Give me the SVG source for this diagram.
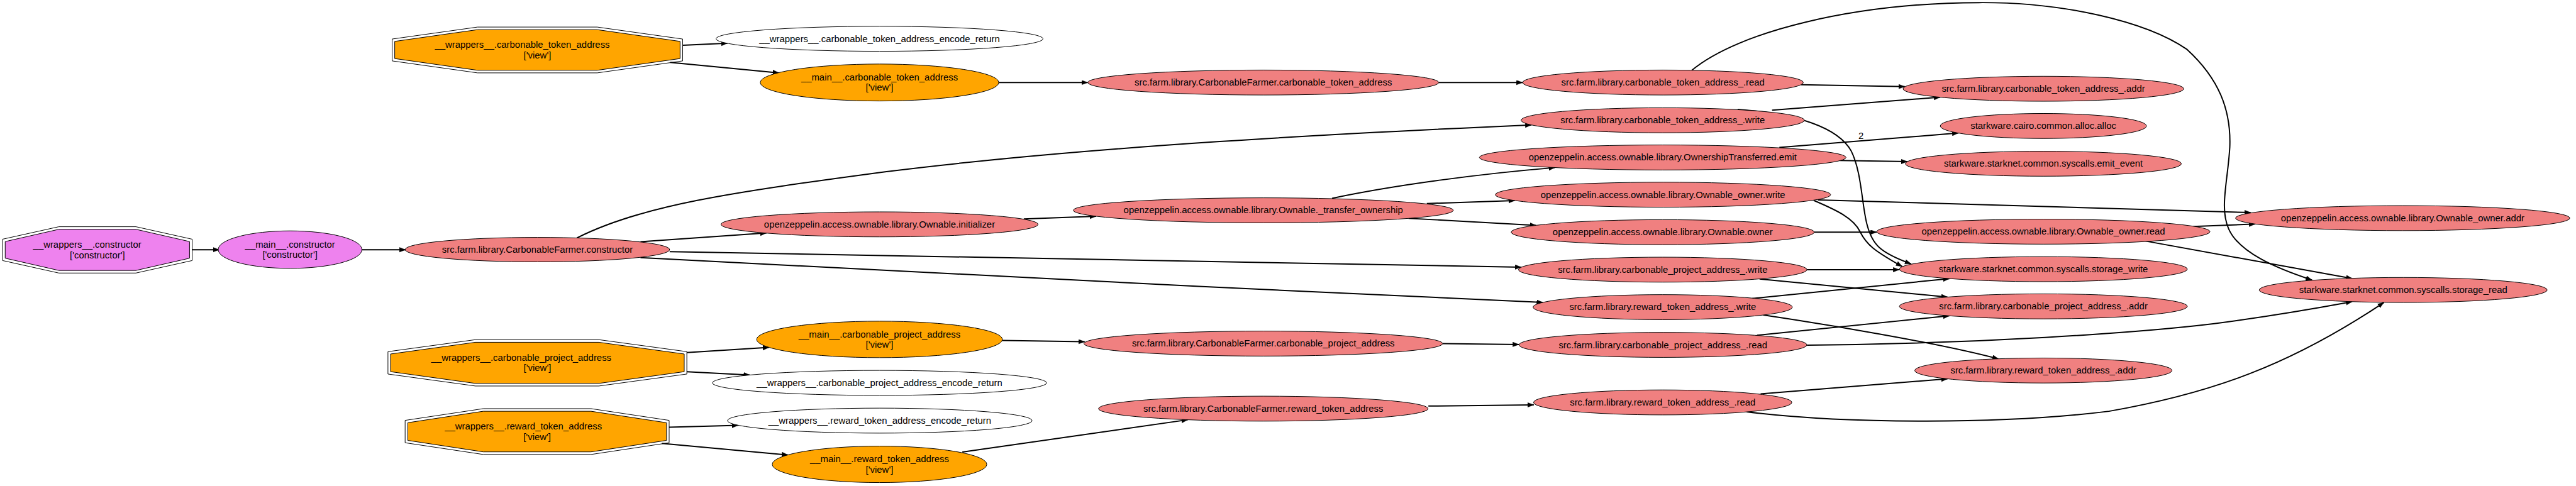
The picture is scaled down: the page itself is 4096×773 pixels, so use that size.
<svg xmlns="http://www.w3.org/2000/svg" width="4096" height="773" viewBox="0 0 4096 773">
<style>
.sh{stroke:#000;stroke-width:1.2}
.lc{fill:#f08080}.or{fill:#ffa500}.vi{fill:#ee82ee}.wh{fill:#fff}.no{fill:none}
text{font-family:"Liberation Sans",Arial,Helvetica,sans-serif;font-size:18px;text-anchor:middle;fill:#000}
.e{fill:none;stroke:#000;stroke-width:2.4;marker-end:url(#ah)}
</style>
<defs>
<marker id="ah" markerUnits="userSpaceOnUse" markerWidth="13" markerHeight="10" refX="12" refY="4.5" orient="auto">
<path d="M0,0 L12,4.5 L0,9 Z" fill="#000" stroke="#000" stroke-width="0.5"/>
</marker>
</defs>
<rect width="4096" height="773" fill="#fff"/>
<g transform="scale(0.828)">
<g id="edges">
<path class="e" d="M1311,87 L1397,83"/>
<path class="e" d="M1287,120 L1496,140"/>
<path class="e" d="M1918,158.5 L2089,158.5"/>
<path class="e" d="M2763,158.5 L2924,158.5"/>
<path class="e" d="M3459,162.7 L3658,166.5"/>
<path class="e" d="M3249,135 C3340,60 3560,6 3800,5 C3960,4 4120,40 4200,95 C4260,150 4285,210 4282,283 C4278,350 4262,400 4280,440 C4300,485 4370,515 4440,538"/>
<path class="e" d="M3403,211.7 L3726,186.7"/>
<path class="e" d="M3337,210 C3450,218 3530,245 3555,290 C3575,330 3575,390 3585,430 C3595,470 3610,485 3670,507"/>
<path class="e" d="M369,479.7 L421,479.7"/>
<path class="e" d="M695,479.7 L779,479.7"/>
<path class="e" d="M1108,457 C1230,395 1400,370 1700,330 C2100,280 2600,255 2941,240"/>
<path class="e" d="M1230,464.5 L1472,447.5"/>
<path class="e" d="M1286,483.3 L2921.5,513.3"/>
<path class="e" d="M1230,495 C1600,516 2400,556 2963,581"/>
<path class="e" d="M1966,420.7 L2105,415.4"/>
<path class="e" d="M2558,381 C2680,355 2850,333 2986,322"/>
<path class="e" d="M2740,391 L2909,385.2"/>
<path class="e" d="M2705,419.3 L2950,433"/>
<path class="e" d="M3417,283.3 L3761,255.5"/>
<text x="3574" y="266.5">2</text>
<path class="e" d="M3533,308.3 L3663,310.5"/>
<path class="e" d="M3491,384 L4322,408.3"/>
<path class="e" d="M3483,385 C3530,405 3560,420 3572,445 C3584,470 3600,482 3653,512"/>
<path class="e" d="M3484,446 L3604,446"/>
<path class="e" d="M4211,435 L4331,430.3"/>
<path class="e" d="M4120,463 L4517,535"/>
<path class="e" d="M3470,518 L3647.5,518"/>
<path class="e" d="M3379,536 L3740,570.7"/>
<path class="e" d="M3365,573.3 L3743.5,535.2"/>
<path class="e" d="M3386,605 C3500,622 3720,658 3838,689.5"/>
<path class="e" d="M1319,677.3 L1477,667.4"/>
<path class="e" d="M1319,714 L1440,720.5"/>
<path class="e" d="M1925,654 L2083,656.5"/>
<path class="e" d="M2770,660 L2917,661.7"/>
<path class="e" d="M3374,644 L3743.5,606.7"/>
<path class="e" d="M3470,663 C3800,660 4100,640 4250,622 C4380,605 4460,590 4517,579.5"/>
<path class="e" d="M1285,820.7 L1417.7,817"/>
<path class="e" d="M1271,851.7 L1513.4,874"/>
<path class="e" d="M1848,868.3 L2281,806.3"/>
<path class="e" d="M2743,780 L2945.5,777.7"/>
<path class="e" d="M3381,756.7 L3740,727.7"/>
<path class="e" d="M3354,791 C3550,815 3850,815 4050,790 C4250,755 4400,700 4578,581"/>
</g>
<g id="wrappers_carbonable_token_address">
<polygon class="sh no" points="917,52 1147,52 1311,75 1311,117 1147,140 917,140 753,117 753,75"/>
<polygon class="sh or" points="917,57 1147,57 1306,79.5 1306,112.5 1147,135 917,135 758,112.5 758,79.5"/>
<text x="1003" y="92">__wrappers__.carbonable_token_address</text>
<text x="1032" y="112">['view']</text>
</g>
<g id="wrappers_carbonable_token_address_encode_return">
<ellipse class="sh wh" cx="1689" cy="74.5" rx="314" ry="24"/>
<text x="1689" y="80.5">__wrappers__.carbonable_token_address_encode_return</text>
</g>
<g id="main_carbonable_token_address">
<ellipse class="sh or" cx="1689" cy="158.5" rx="229" ry="35.5"/>
<text x="1689" y="154.5">__main__.carbonable_token_address</text>
<text x="1689" y="174.5">['view']</text>
</g>
<g id="wrappers_constructor">
<polygon class="sh no" points="113,435.5 261,435.5 369,459.5 369,500.5 261,524.5 113,524.5 5,500.5 5,459.5"/>
<polygon class="sh vi" points="113,440.5 261,440.5 364,464 364,496 261,519.5 113,519.5 10,496 10,464"/>
<text x="167.5" y="476">__wrappers__.constructor</text>
<text x="187" y="496">['constructor']</text>
</g>
<g id="main_constructor">
<ellipse class="sh vi" cx="557" cy="479.5" rx="138" ry="36"/>
<text x="557" y="475.5">__main__.constructor</text>
<text x="557" y="495.5">['constructor']</text>
</g>
<g id="CarbonableFarmer_constructor">
<ellipse class="sh lc" cx="1032" cy="479.5" rx="254" ry="23.5"/>
<text x="1032" y="485.5">src.farm.library.CarbonableFarmer.constructor</text>
</g>
<g id="Ownable_initializer">
<ellipse class="sh lc" cx="1689" cy="431" rx="304.5" ry="24"/>
<text x="1689" y="437">openzeppelin.access.ownable.library.Ownable.initializer</text>
</g>
<g id="wrappers_carbonable_project_address">
<polygon class="sh no" points="913,652.5 1150,652.5 1319,675.5 1319,718.5 1150,741.5 913,741.5 745,718.5 745,675.5"/>
<polygon class="sh or" points="913,657.5 1150,657.5 1314,680 1314,714 1150,736.5 913,736.5 750,714 750,680"/>
<text x="1001" y="693">__wrappers__.carbonable_project_address</text>
<text x="1032" y="713">['view']</text>
</g>
<g id="main_carbonable_project_address">
<ellipse class="sh or" cx="1689" cy="652" rx="236" ry="35"/>
<text x="1689" y="648">__main__.carbonable_project_address</text>
<text x="1689" y="668">['view']</text>
</g>
<g id="wrappers_carbonable_project_address_encode_return">
<ellipse class="sh wh" cx="1689" cy="735.5" rx="321" ry="24"/>
<text x="1689" y="741.5">__wrappers__.carbonable_project_address_encode_return</text>
</g>
<g id="wrappers_reward_token_address">
<polygon class="sh no" points="928,785 1135,785 1285,807.5 1285,850.5 1135,873 928,873 778,850.5 778,807.5"/>
<polygon class="sh or" points="928,790 1135,790 1280,812 1280,846 1135,868 928,868 783,846 783,812"/>
<text x="1005" y="825">__wrappers__.reward_token_address</text>
<text x="1031.5" y="845">['view']</text>
</g>
<g id="wrappers_reward_token_address_encode_return">
<ellipse class="sh wh" cx="1689.5" cy="808" rx="292.5" ry="24"/>
<text x="1689.5" y="814">__wrappers__.reward_token_address_encode_return</text>
</g>
<g id="main_reward_token_address">
<ellipse class="sh or" cx="1689" cy="892" rx="206" ry="35"/>
<text x="1689" y="888">__main__.reward_token_address</text>
<text x="1689" y="908">['view']</text>
</g>
<g id="CarbonableFarmer_carbonable_token_address">
<ellipse class="sh lc" cx="2426" cy="158.5" rx="337" ry="24"/>
<text x="2426" y="164.5">src.farm.library.CarbonableFarmer.carbonable_token_address</text>
</g>
<g id="Ownable_transfer_ownership">
<ellipse class="sh lc" cx="2426" cy="404" rx="365" ry="24"/>
<text x="2426" y="410">openzeppelin.access.ownable.library.Ownable._transfer_ownership</text>
</g>
<g id="CarbonableFarmer_carbonable_project_address">
<ellipse class="sh lc" cx="2426" cy="660" rx="344.5" ry="24"/>
<text x="2426" y="666">src.farm.library.CarbonableFarmer.carbonable_project_address</text>
</g>
<g id="CarbonableFarmer_reward_token_address">
<ellipse class="sh lc" cx="2426" cy="785" rx="316.5" ry="24"/>
<text x="2426" y="791">src.farm.library.CarbonableFarmer.reward_token_address</text>
</g>
<g id="carbonable_token_address_read">
<ellipse class="sh lc" cx="3193.5" cy="158.5" rx="269.5" ry="24"/>
<text x="3193.5" y="164.5">src.farm.library.carbonable_token_address_.read</text>
</g>
<g id="carbonable_token_address_write">
<ellipse class="sh lc" cx="3193" cy="231" rx="272" ry="24"/>
<text x="3193" y="237">src.farm.library.carbonable_token_address_.write</text>
</g>
<g id="OwnershipTransferred_emit">
<ellipse class="sh lc" cx="3193" cy="302.5" rx="352" ry="24"/>
<text x="3193" y="308.5">openzeppelin.access.ownable.library.OwnershipTransferred.emit</text>
</g>
<g id="Ownable_owner_write">
<ellipse class="sh lc" cx="3193.5" cy="374" rx="322" ry="24"/>
<text x="3193.5" y="380">openzeppelin.access.ownable.library.Ownable_owner.write</text>
</g>
<g id="Ownable_owner">
<ellipse class="sh lc" cx="3193" cy="446" rx="291" ry="24"/>
<text x="3193" y="452">openzeppelin.access.ownable.library.Ownable.owner</text>
</g>
<g id="carbonable_project_address_write">
<ellipse class="sh lc" cx="3193" cy="518" rx="277" ry="24"/>
<text x="3193" y="524">src.farm.library.carbonable_project_address_.write</text>
</g>
<g id="reward_token_address_write">
<ellipse class="sh lc" cx="3193" cy="590" rx="249" ry="24"/>
<text x="3193" y="596">src.farm.library.reward_token_address_.write</text>
</g>
<g id="carbonable_project_address_read">
<ellipse class="sh lc" cx="3193.5" cy="662.5" rx="276.5" ry="24"/>
<text x="3193.5" y="668.5">src.farm.library.carbonable_project_address_.read</text>
</g>
<g id="reward_token_address_read">
<ellipse class="sh lc" cx="3193" cy="773" rx="248" ry="24"/>
<text x="3193" y="779">src.farm.library.reward_token_address_.read</text>
</g>
<g id="carbonable_token_address_addr">
<ellipse class="sh lc" cx="3924" cy="170.5" rx="269.5" ry="24"/>
<text x="3924" y="176.5">src.farm.library.carbonable_token_address_.addr</text>
</g>
<g id="alloc">
<ellipse class="sh lc" cx="3924" cy="242" rx="198" ry="24"/>
<text x="3924" y="248">starkware.cairo.common.alloc.alloc</text>
</g>
<g id="emit_event">
<ellipse class="sh lc" cx="3924" cy="314.5" rx="265" ry="24"/>
<text x="3924" y="320.5">starkware.starknet.common.syscalls.emit_event</text>
</g>
<g id="Ownable_owner_read">
<ellipse class="sh lc" cx="3924" cy="445" rx="320" ry="24"/>
<text x="3924" y="451">openzeppelin.access.ownable.library.Ownable_owner.read</text>
</g>
<g id="storage_write">
<ellipse class="sh lc" cx="3924" cy="517" rx="276.5" ry="24"/>
<text x="3924" y="523">starkware.starknet.common.syscalls.storage_write</text>
</g>
<g id="carbonable_project_address_addr">
<ellipse class="sh lc" cx="3924" cy="588.5" rx="276.5" ry="24"/>
<text x="3924" y="594.5">src.farm.library.carbonable_project_address_.addr</text>
</g>
<g id="reward_token_address_addr">
<ellipse class="sh lc" cx="3924" cy="711.7" rx="247" ry="24"/>
<text x="3924" y="717.7">src.farm.library.reward_token_address_.addr</text>
</g>
<g id="Ownable_owner_addr">
<ellipse class="sh lc" cx="4614" cy="419" rx="321" ry="24"/>
<text x="4614" y="425">openzeppelin.access.ownable.library.Ownable_owner.addr</text>
</g>
<g id="storage_read">
<ellipse class="sh lc" cx="4615" cy="557" rx="276.5" ry="24"/>
<text x="4615" y="563">starkware.starknet.common.syscalls.storage_read</text>
</g>
</g>
</svg>
